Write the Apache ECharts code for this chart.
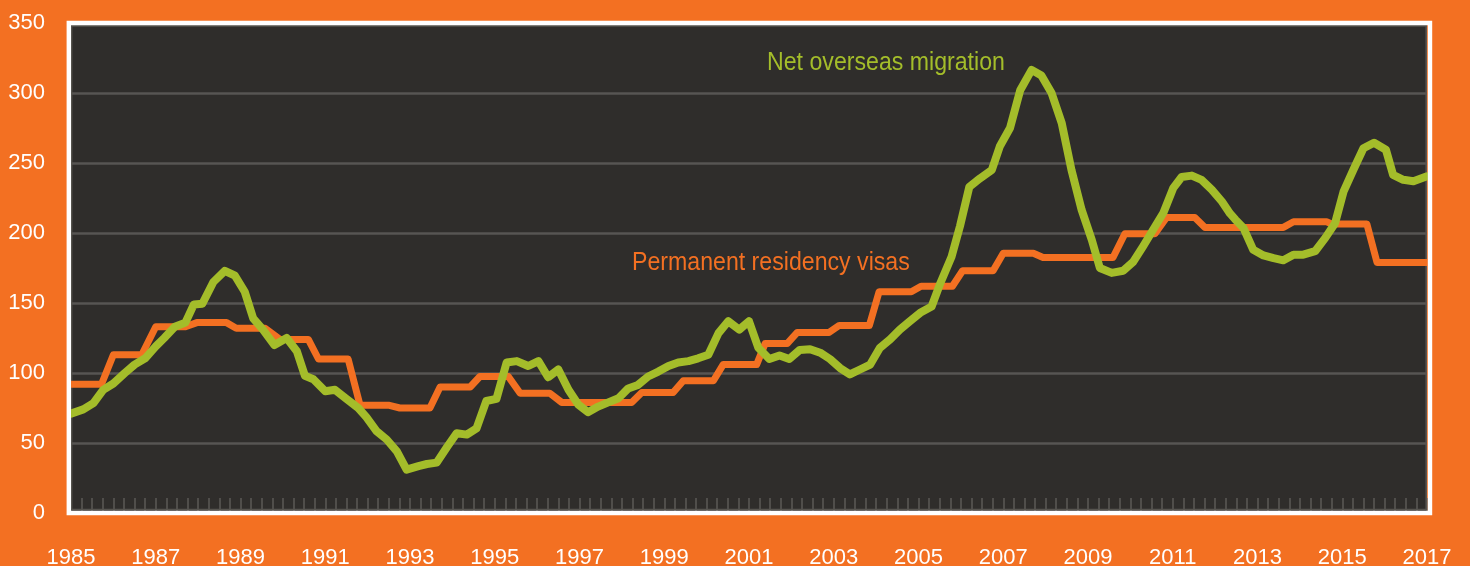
<!DOCTYPE html>
<html>
<head>
<meta charset="utf-8">
<script src="https://cdn.jsdelivr.net/npm/echarts@6/dist/echarts.min.js"></script>
<style>
  html, body { margin: 0; padding: 0; background: #F37022; }
  #chart { width: 1470px; height: 566px; }
</style>
</head>
<body>
<div id="chart"></div>
<script>
// ---- Data (thousands) ----
const seriesNames = ['Permanent residency visas', 'Net overseas migration'];

// Net overseas migration
const nomYears = [
  1985.00, 1985.29, 1985.53, 1985.76, 1986.00,
  1986.27, 1986.50, 1986.75, 1987.00,
  1987.20, 1987.45, 1987.70, 1987.90,
  1988.10, 1988.36, 1988.63, 1988.87,
  1989.10, 1989.30, 1989.53, 1989.80,
  1990.09, 1990.33, 1990.52, 1990.72,
  1991.00, 1991.23, 1991.50, 1991.78, 1991.97,
  1992.21, 1992.45, 1992.69, 1992.92,
  1993.20, 1993.40, 1993.63, 1993.87,
  1994.10, 1994.34, 1994.57, 1994.80,
  1995.04, 1995.28, 1995.52, 1995.79,
  1996.03, 1996.26, 1996.50, 1996.74, 1996.97,
  1997.20, 1997.44, 1997.68, 1997.92,
  1998.15, 1998.38, 1998.62, 1998.86,
  1999.10, 1999.33, 1999.57, 1999.80,
  2000.04, 2000.28, 2000.51, 2000.77,
  2001.00, 2001.22, 2001.48, 2001.72, 2001.95,
  2002.20, 2002.44, 2002.68, 2002.91,
  2003.15, 2003.38, 2003.62, 2003.86,
  2004.09, 2004.33, 2004.56, 2004.80,
  2005.04, 2005.31, 2005.50, 2005.78, 2005.98,
  2006.20, 2006.45, 2006.73, 2006.92,
  2007.16, 2007.40, 2007.67, 2007.90,
  2008.14, 2008.38, 2008.61, 2008.85,
  2009.09, 2009.28, 2009.56, 2009.83,
  2010.07, 2010.30, 2010.54, 2010.78,
  2011.01, 2011.21, 2011.45, 2011.68, 2011.92,
  2012.16, 2012.35, 2012.48, 2012.67, 2012.90,
  2013.14, 2013.38, 2013.61, 2013.85,
  2014.08, 2014.36, 2014.60, 2014.83,
  2015.03, 2015.26, 2015.50, 2015.75,
  2016.03, 2016.20, 2016.44, 2016.68, 2017.00
];
const nomValues = [
  71, 74, 78.5, 88, 92.5,
  100, 106, 110.5, 119,
  125, 133, 136, 149,
  149.5, 165, 173, 169.5,
  158, 139, 131, 120,
  125, 115.5, 98, 95.5,
  87, 88, 81.5, 75, 68.5,
  58.5, 52.5, 44, 31,
  33.5, 35, 36, 47,
  57, 56, 60.5, 80,
  81.5, 107.5, 108.5, 105,
  108.5, 97, 102.5, 88, 77.5,
  72, 76, 79, 82,
  89, 91.5, 97.5, 101,
  105, 107.5, 108.5, 110.5,
  113, 128.5, 137, 131,
  137, 118, 110, 112.5, 110,
  116.5, 117, 114.5, 110,
  103.5, 99, 102.5, 106,
  118, 124, 131, 137,
  143, 147.5, 163, 183, 205,
  233, 239, 245, 262,
  275, 302, 316.5, 312.5,
  300, 278.5, 245, 216.5,
  195, 175, 171.5, 173,
  179.5, 190.5, 202.5, 214.5,
  232, 240, 241, 238, 231,
  222.5, 214, 209.5, 203.5, 188,
  184, 182, 180.5, 184.5,
  184.5, 187, 196.5, 207,
  229.5, 245, 260.5, 264.5,
  259.5, 241.5, 238, 237, 240.5
];

// Permanent residency visas (annual program steps)
const prYears = [
  1985.00, 1985.72, 1986.00, 1986.67, 1987.00, 1987.70, 1987.97, 1988.67,
  1988.90, 1989.58, 1989.93, 1990.60, 1990.84, 1991.54, 1991.82, 1992.49,
  1992.76, 1993.47, 1993.71, 1994.42, 1994.65, 1995.32, 1995.60, 1996.30,
  1996.58, 1998.23, 1998.47, 1999.21, 1999.45, 2000.16, 2000.39, 2001.18,
  2001.38, 2001.90, 2002.14, 2002.89, 2003.13, 2003.84, 2004.07, 2004.83,
  2005.06, 2005.80, 2006.04, 2006.76, 2007.00, 2007.71, 2007.94, 2009.59,
  2009.87, 2010.58, 2010.85, 2011.52, 2011.76, 2013.61, 2013.85, 2014.63,
  2014.75, 2015.58, 2015.82, 2017.00
];
const prValues = [
  92, 92, 113, 113, 133, 133, 136, 136,
  132, 132, 124, 124, 110, 110, 77, 77,
  75, 75, 90, 90, 97.5, 97.5, 85.5, 85.5,
  79, 79, 86, 86, 94.5, 94.5, 106, 106,
  121, 121, 129, 129, 134, 134, 158, 158,
  162, 162, 173, 173, 185.5, 185.5, 182.5, 182.5,
  199.5, 199.5, 211, 211, 204, 204, 208, 208,
  206.5, 206.5, 179, 179
];

const xMin = 1985, xMax = 2017;
const yMin = 0, yMax = 350, yStep = 50;

// ---- Chart ----
const ORANGE = '#F37022';
const GREEN = '#A4BD2A';
const FONT = '"Liberation Sans", Arial, sans-serif';
const chart = echarts.init(document.getElementById('chart'), null, { renderer: 'canvas' });

const toPairs = (xs, ys) => xs.map((x, i) => [x, ys[i]]);

chart.setOption({
  animation: false,
  backgroundColor: ORANGE,
  grid: {
    left: 71, right: 43, top: 23, bottom: 53,
    containLabel: false, outerBoundsMode: 'none',
    show: true, backgroundColor: '#2F2D2B', borderWidth: 0
  },
  xAxis: {
    type: 'value',
    min: xMin, max: xMax, interval: 1,
    axisLine: { show: false },
    axisTick: { show: true, inside: true, length: 15, lineStyle: { color: '#5C5A57', width: 1.5 } },
    minorTick: { show: true, splitNumber: 4, length: 15, lineStyle: { color: '#5C5A57', width: 1.5 } },
    splitLine: { show: false },
    axisLabel: {
      color: '#ffffff', fontSize: 22, fontFamily: FONT,
      margin: 34, hideOverlap: false,
      formatter: v => ((v - xMin) % 2 === 0 ? String(v) : '')
    }
  },
  yAxis: {
    type: 'value',
    min: yMin, max: yMax, interval: yStep,
    axisLine: { show: false },
    axisTick: { show: false },
    splitLine: { show: true, lineStyle: { color: '#575553', width: 2.5 } },
    axisLabel: {
      color: '#ffffff', fontSize: 22, fontFamily: FONT,
      margin: 26
    }
  },
  series: [
    {
      name: seriesNames[0], type: 'line', data: toPairs(prYears, prValues),
      showSymbol: false, silent: true, clip: true, z: 3,
      lineStyle: { color: ORANGE, width: 7, cap: 'round', join: 'round' }
    },
    {
      name: seriesNames[1], type: 'line', data: toPairs(nomYears, nomValues),
      showSymbol: false, silent: true, clip: true, z: 4,
      lineStyle: { color: GREEN, width: 8, cap: 'round', join: 'round' }
    }
  ],
  graphic: [
    {
      type: 'rect', z: 1, silent: true,
      shape: { x: 71.6, y: 25.9, width: 1354.6, height: 483.6 },
      style: { fill: 'none', stroke: '#56544F', lineWidth: 1.6 }
    },
    {
      type: 'rect', z: 100, silent: true,
      shape: { x: 68.8, y: 23, width: 1361.2, height: 490 },
      style: { fill: 'none', stroke: '#ffffff', lineWidth: 4.4 }
    },
    {
      type: 'text', z: 50, silent: true, x: 767, y: 63, scaleX: 0.89,
      style: {
        text: seriesNames[1], fill: GREEN,
        font: '26px ' + FONT,
        textAlign: 'left', textVerticalAlign: 'middle'
      }
    },
    {
      type: 'text', z: 50, silent: true, x: 632, y: 263, scaleX: 0.89,
      style: {
        text: seriesNames[0], fill: ORANGE,
        font: '26px ' + FONT,
        textAlign: 'left', textVerticalAlign: 'middle'
      }
    }
  ]
});
</script>
</body>
</html>
